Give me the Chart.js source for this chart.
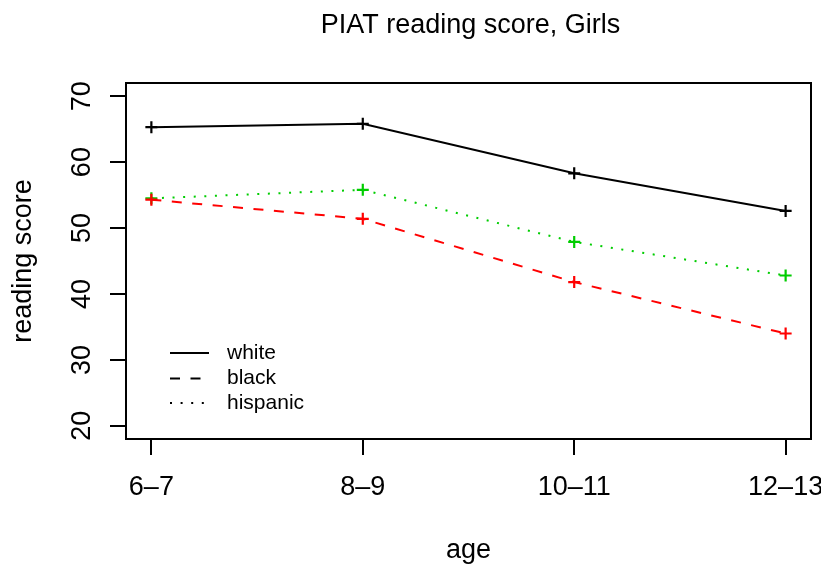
<!DOCTYPE html>
<html>
<head>
<meta charset="utf-8">
<script src="https://cdn.jsdelivr.net/npm/chart.js@4"></script>
<style>
html,body{margin:0;padding:0;background:#fff;}
#wrap{width:821px;height:566px;}
</style>
</head>
<body>
<div id="wrap"><canvas id="piat-chart"></canvas></div>
<script>
var ageGroups = ["6–7", "8–9", "10–11", "12–13"];
var white = [65.3, 65.8, 58.3, 52.6];
var black = [54.3, 51.4, 41.8, 34.0];
var hispanic = [54.5, 55.8, 47.9, 42.8];
var scoreTicks = [20, 30, 40, 50, 60, 70];

var fuente = '"Liberation Sans", Arial, Helvetica, sans-serif';

function puntos(serie) {
	return serie.map(function (v, i) { return { x: i + 1, y: v }; });
}

function serie(nombre, valores, color, dash) {
	return {
		label: nombre,
		data: puntos(valores),
		borderColor: color,
		backgroundColor: color,
		borderWidth: 2,
		borderDash: dash,
		borderCapStyle: 'butt',
		tension: 0,
		pointStyle: 'cross',
		pointRadius: 6,
		pointBorderWidth: 2.2,
		pointBorderColor: color,
		fill: false
	};
}

// box, titles, rotated y labels and the legend in the lower left corner
var marco = {
	id: 'marco',
	afterDraw: function (chart) {
		var ctx = chart.ctx, a = chart.chartArea, ys = chart.scales.y;
		var cx = (a.left + a.right) / 2;
		ctx.save();
		ctx.strokeStyle = '#000';
		ctx.lineWidth = 2;
		ctx.setLineDash([]);
		ctx.strokeRect(a.left, a.top, a.right - a.left, a.bottom - a.top);

		ctx.fillStyle = '#000';
		ctx.font = '27px ' + fuente;
		ctx.textAlign = 'center';
		ctx.textBaseline = 'alphabetic';
		ctx.fillText('PIAT reading score, Girls', cx + 2, 33);
		ctx.fillText('age', cx, 558);

		scoreTicks.forEach(function (v) {
			ctx.save();
			ctx.translate(90, ys.getPixelForValue(v));
			ctx.rotate(-Math.PI / 2);
			ctx.fillText(String(v), 0, 0);
			ctx.restore();
		});

		ctx.save();
		ctx.translate(31, (a.top + a.bottom) / 2);
		ctx.rotate(-Math.PI / 2);
		ctx.fillText('reading score', 0, 0);
		ctx.restore();

		// leyenda
		var filas = [353, 378.5, 403];
		ctx.font = '21px ' + fuente;
		ctx.textAlign = 'left';
		ctx.textBaseline = 'middle';
		chart.data.datasets.forEach(function (ds, i) {
			ctx.beginPath();
			ctx.setLineDash(ds.borderDash);
			ctx.lineWidth = 2;
			ctx.strokeStyle = '#000';
			ctx.moveTo(170, filas[i]);
			ctx.lineTo(209, filas[i]);
			ctx.stroke();
			ctx.setLineDash([]);
			ctx.fillText(ds.label, 227, filas[i]);
		});
		ctx.restore();
	}
};

new Chart(document.getElementById('piat-chart'), {
	type: 'line',
	data: {
		datasets: [
			serie('white', white, '#000000', []),
			serie('black', black, '#FF0000', [10, 10.5]),
			serie('hispanic', hispanic, '#00CD00', [2, 8.6])
		]
	},
	options: {
		responsive: true,
		maintainAspectRatio: false,
		animation: false,
		devicePixelRatio: 1,
		layout: { padding: { top: 83, right: 10, left: 0, bottom: 0 } },
		plugins: {
			legend: { display: false },
			tooltip: { enabled: false },
			title: { display: false }
		},
		scales: {
			x: {
				type: 'linear',
				min: 0.88,
				max: 4.12,
				afterBuildTicks: function (scale) {
					scale.ticks = ageGroups.map(function (g, i) { return { value: i + 1 }; });
				},
				afterFit: function (scale) {
					scale.height = 127;
					scale.paddingLeft = 0;
					scale.paddingRight = 0;
				},
				border: { display: false },
				grid: {
					drawOnChartArea: false,
					drawTicks: true,
					tickLength: 16,
					color: '#000',
					lineWidth: 2,
					tickWidth: 2
				},
				ticks: {
					autoSkip: false,
					maxRotation: 0,
					minRotation: 0,
					padding: 16,
					color: '#000',
					font: { family: fuente, size: 27 },
					callback: function (v) { return ageGroups[v - 1]; }
				}
			},
			y: {
				type: 'linear',
				min: 18,
				max: 72,
				afterBuildTicks: function (scale) {
					scale.ticks = scoreTicks.map(function (v) { return { value: v }; });
				},
				afterFit: function (scale) {
					scale.width = 126;
					scale.paddingTop = 0;
					scale.paddingBottom = 0;
				},
				border: { display: false },
				grid: {
					drawOnChartArea: false,
					drawTicks: true,
					tickLength: 16,
					color: '#000',
					lineWidth: 2,
					tickWidth: 2
				},
				ticks: { display: false }
			}
		}
	},
	plugins: [marco]
});
</script>
</body>
</html>
